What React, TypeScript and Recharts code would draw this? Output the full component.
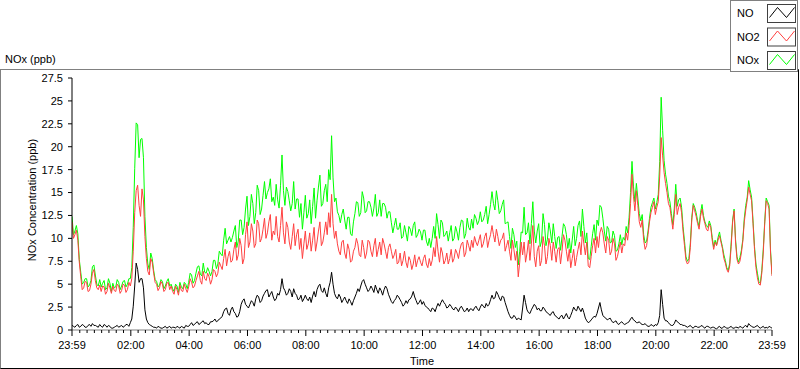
import { Legend, Line, LineChart, XAxis, YAxis } from 'recharts'

// readings every 6 minutes from 23:59 of the day before, plus the readings halfway between them
const START_MIN = -1
const STEP_MIN = 6

const NO = [
  0.5, 0.3, 0.6, 0.4, 0.5, 0.3, 0.6, 0.7, 0.5, 0.3,
  0.4, 0.6, 0.3, 0.4, 0.2, 0.4, 0.3, 0.5, 0.4, 0.6,
  0.8, 2.6, 7.3, 5.2, 5.6, 2.2, 0.8, 0.5, 0.3, 0.2,
  0.3, 0.2, 0.4, 0.3, 0.2, 0.3, 0.4, 0.2, 0.3, 0.5,
  0.4, 0.8, 0.6, 0.9, 0.7, 1.0, 0.8, 0.6, 0.9, 1.2,
  1.0, 1.3, 2.0, 2.4, 1.6, 2.5, 1.8, 1.5, 2.8, 3.4,
  2.6, 2.8, 3.0, 3.4, 3.6, 3.2, 4.0, 4.4, 3.9, 3.6,
  3.4, 3.8, 5.6, 4.3, 4.0, 4.2, 4.5, 3.8, 3.4, 3.1,
  3.8, 3.2, 3.0, 4.2, 4.4, 5.0, 4.1, 4.0, 4.6, 6.3,
  4.0, 3.4, 3.6, 3.3, 3.2, 3.4, 2.7, 3.6, 4.5, 4.8,
  5.5, 4.6, 4.4, 4.5, 4.9, 4.0, 4.3, 4.4, 4.5, 3.5,
  2.9, 3.4, 3.6, 3.0, 2.8, 2.9, 3.4, 4.2, 3.2, 3.0,
  2.8, 2.7, 2.4, 2.0, 2.3, 2.5, 2.6, 3.3, 2.8, 2.5,
  2.6, 2.2, 2.3, 2.4, 2.3, 2.1, 2.0, 2.3, 2.4, 2.3,
  2.5, 2.6, 2.9, 2.8, 3.8, 3.5, 3.9, 3.2, 3.6, 2.5,
  1.6, 1.3, 1.4, 1.3, 1.1, 3.8, 2.2, 1.8, 2.5, 2.6,
  2.4, 2.1, 2.3, 1.9, 1.6, 2.0, 1.5, 1.2, 1.6, 1.5,
  1.4, 1.6, 2.5, 2.1, 2.3, 2.4, 1.3, 0.8, 1.1, 1.5,
  1.8, 3.0, 1.6, 1.3, 1.2, 1.0, 0.9, 0.7, 0.8, 0.7,
  0.7, 0.9, 1.4, 1.0, 0.8, 0.7, 0.6, 0.5, 0.4, 0.5,
  0.6, 0.8, 4.4, 1.3, 1.0, 0.6, 0.5, 1.1, 0.8, 0.6,
  0.5, 0.3, 0.5, 0.2, 0.4, 0.3, 0.5, 0.2, 0.4, 0.2,
  0.3, 0.1, 0.4, 0.2, 0.3, 0.2, 0.4, 0.2, 0.3, 0.4,
  0.2, 0.5, 0.7, 0.4, 0.3, 0.5, 0.2, 0.4, 0.3, 0.4,
  0.2,
]

const NO_MID = [
  0.4, 0.5, 0.3, 0.6, 0.3, 0.5, 0.4, 0.5, 0.4, 0.6,
  0.3, 0.5, 0.5, 0.2, 0.3, 0.5, 0.4, 0.3, 0.6, 0.4,
  1.2, 4.8, 6.6, 5.6, 4.6, 1.2, 0.6, 0.4, 0.3, 0.4,
  0.2, 0.3, 0.2, 0.4, 0.3, 0.2, 0.3, 0.4, 0.2, 0.4,
  0.6, 0.5, 0.8, 0.6, 0.9, 0.7, 0.6, 0.9, 1.0, 0.9,
  1.2, 1.5, 2.3, 1.8, 2.2, 2.0, 1.4, 2.0, 3.2, 2.8,
  2.4, 3.2, 2.6, 3.8, 3.0, 3.7, 4.3, 3.6, 4.2, 3.2,
  4.0, 4.4, 4.6, 3.8, 4.5, 3.6, 4.0, 3.3, 3.8, 3.4,
  3.4, 3.6, 3.7, 3.6, 4.8, 4.3, 4.6, 3.6, 5.2, 5.0,
  3.6, 3.9, 3.0, 3.6, 2.9, 3.1, 3.2, 4.0, 4.2, 5.3,
  5.0, 4.2, 4.8, 4.1, 4.4, 4.6, 3.8, 4.8, 3.9, 3.1,
  3.2, 3.8, 3.3, 2.6, 3.2, 3.3, 3.7, 3.6, 2.8, 3.3,
  3.1, 2.5, 2.2, 2.4, 2.0, 2.9, 3.0, 3.0, 2.4, 2.8,
  2.3, 2.5, 2.0, 2.6, 2.0, 2.4, 2.3, 2.1, 2.6, 2.1,
  2.8, 2.4, 2.6, 3.3, 3.4, 4.2, 3.5, 3.7, 3.0, 2.0,
  1.3, 1.6, 1.1, 1.2, 2.4, 3.0, 1.9, 2.2, 2.8, 2.2,
  2.1, 2.5, 2.0, 1.7, 1.9, 1.6, 1.3, 1.5, 1.2, 1.8,
  1.2, 2.0, 2.2, 2.6, 2.0, 1.9, 1.0, 0.9, 1.3, 1.4,
  2.4, 2.2, 1.4, 1.1, 1.3, 0.8, 1.0, 0.6, 0.9, 0.6,
  0.8, 1.2, 1.1, 0.8, 0.9, 0.6, 0.7, 0.4, 0.6, 0.4,
  0.5, 1.6, 2.8, 1.0, 0.8, 0.5, 0.7, 0.9, 0.6, 0.5,
  0.4, 0.4, 0.3, 0.4, 0.3, 0.4, 0.3, 0.4, 0.3, 0.3,
  0.2, 0.3, 0.2, 0.4, 0.2, 0.3, 0.2, 0.3, 0.2, 0.3,
  0.4, 0.3, 0.5, 0.3, 0.4, 0.3, 0.3, 0.2, 0.2, 0.3,
]

const NO2 = [
  11.8, 10.4, 9.8, 5.8, 4.6, 5.2, 4.3, 6.2, 5.4, 4.4,
  4.2, 4.7, 4.2, 4.6, 4.8, 4.2, 4.8, 4.3, 4.9, 4.4,
  4.8, 8.6, 15.2, 13.6, 15.4, 10.2, 6.4, 7.8, 6.2, 5.0,
  4.6, 5.0, 4.4, 5.2, 4.8, 3.9, 4.4, 4.9, 4.2, 4.5,
  4.7, 5.2, 4.8, 5.9, 5.4, 6.4, 5.4, 5.8, 5.5, 6.4,
  6.2, 7.0, 7.8, 7.0, 8.6, 7.6, 9.6, 8.2, 9.2, 7.8,
  11.8, 9.6, 10.8, 9.4, 11.6, 10.0, 12.2, 10.6, 12.6, 10.8,
  12.4, 9.6, 13.4, 9.4, 11.2, 8.8, 11.6, 10.4, 8.8, 7.8,
  10.8, 9.4, 8.6, 11.2, 9.6, 11.8, 9.6, 11.8, 12.8, 14.8,
  10.0, 9.4, 8.2, 9.8, 7.8, 8.8, 7.6, 9.0, 9.4, 8.0,
  9.0, 8.4, 9.6, 8.0, 10.0, 8.8, 8.2, 9.4, 7.8, 9.4,
  7.8, 8.8, 7.4, 7.0, 8.6, 6.8, 7.6, 7.2, 6.9, 8.0,
  7.0, 8.2, 6.8, 7.0, 9.0, 10.2, 7.4, 8.4, 7.6, 7.2,
  8.8, 7.8, 8.4, 8.8, 9.6, 8.4, 9.2, 9.8, 10.2, 9.2,
  10.4, 9.4, 10.6, 9.8, 11.4, 9.6, 10.2, 9.8, 10.6, 9.2,
  8.6, 9.8, 7.6, 5.8, 9.6, 9.6, 8.4, 7.6, 11.4, 6.9,
  9.2, 7.6, 9.2, 8.0, 9.2, 9.6, 7.4, 9.0, 8.6, 9.8,
  7.5, 6.8, 8.8, 7.9, 9.6, 10.8, 8.2, 7.0, 8.0, 10.0,
  10.2, 10.6, 10.6, 8.4, 9.8, 8.6, 9.4, 8.0, 9.6, 9.4,
  10.6, 11.4, 17.0, 13.0, 13.6, 11.2, 9.8, 9.2, 11.8, 13.4,
  12.6, 14.0, 21.0, 17.2, 15.0, 13.4, 11.0, 14.8, 13.4, 12.8,
  9.2, 7.2, 9.0, 13.6, 12.4, 11.0, 13.2, 11.6, 10.8, 11.2,
  8.8, 9.2, 10.3, 8.9, 7.3, 6.3, 9.1, 13.0, 7.7, 7.5,
  9.7, 13.1, 15.6, 14.1, 8.8, 5.7, 4.9, 8.4, 14.1, 13.2,
  5.9,
]

const NO2_MID = [
  10.0, 10.9, 7.4, 4.4, 5.3, 4.2, 5.0, 6.6, 4.6, 4.9,
  4.8, 3.9, 5.1, 4.0, 4.3, 5.0, 4.0, 5.0, 4.1, 5.2,
  5.6, 12.8, 15.8, 12.4, 14.2, 7.8, 6.0, 7.4, 5.2, 4.3,
  5.3, 4.2, 5.1, 4.4, 4.2, 4.8, 3.8, 4.3, 5.0, 4.1,
  5.6, 4.6, 5.4, 6.4, 5.0, 5.6, 6.2, 5.0, 6.6, 5.8,
  7.4, 6.6, 8.8, 8.0, 7.4, 8.8, 7.6, 10.0, 7.2, 10.4,
  9.0, 11.6, 9.0, 12.0, 9.6, 11.0, 10.0, 11.8, 9.8, 10.4,
  10.2, 11.4, 10.6, 11.8, 9.6, 10.2, 9.2, 11.0, 10.0, 9.4,
  8.8, 10.6, 9.8, 8.6, 10.8, 9.2, 10.6, 10.4, 11.2, 11.6,
  10.8, 8.6, 9.6, 8.4, 9.4, 7.4, 8.6, 10.0, 8.2, 9.8,
  7.8, 9.8, 8.6, 9.2, 8.0, 9.6, 10.0, 8.6, 9.0, 8.6,
  8.2, 7.2, 8.4, 7.6, 7.4, 8.0, 6.6, 8.2, 7.6, 7.4,
  7.8, 7.2, 7.8, 7.6, 8.0, 8.6, 9.0, 7.2, 8.4, 7.8,
  7.4, 8.8, 7.8, 9.4, 8.0, 9.8, 8.6, 9.0, 9.6, 9.8,
  9.0, 10.2, 9.0, 10.4, 10.4, 11.0, 9.2, 10.0, 8.6, 9.8,
  7.6, 8.8, 8.6, 7.4, 8.2, 7.4, 9.8, 9.4, 8.0, 8.6,
  7.0, 10.2, 7.2, 10.0, 7.6, 8.6, 8.8, 7.2, 10.4, 8.6,
  8.8, 7.8, 7.0, 8.8, 8.2, 9.4, 9.6, 6.8, 9.2, 8.4,
  9.0, 11.2, 9.4, 10.2, 8.2, 10.0, 7.6, 8.8, 8.4, 9.2,
  9.8, 13.8, 14.6, 15.2, 11.8, 12.0, 8.8, 10.4, 12.8, 14.0,
  13.4, 16.8, 19.0, 16.0, 13.8, 12.2, 12.6, 12.6, 13.8, 10.8,
  7.6, 7.4, 12.0, 13.0, 11.6, 12.4, 12.2, 11.0, 11.6, 9.8,
  9.6, 9.8, 9.6, 7.8, 6.6, 7.0, 11.8, 9.6, 7.2, 8.4,
  11.8, 14.2, 14.8, 11.6, 6.8, 5.0, 6.2, 11.6, 13.8, 8.4,
]

const NOX = [
  12.4, 10.8, 10.5, 6.3, 5.2, 5.6, 4.9, 6.9, 6.0, 4.8,
  4.7, 5.4, 4.6, 5.1, 5.1, 4.7, 5.2, 4.8, 5.4, 5.0,
  5.6, 11.2, 22.6, 18.8, 20.9, 12.4, 7.2, 8.4, 6.5, 5.3,
  4.9, 5.3, 4.8, 5.6, 5.0, 4.2, 4.8, 5.2, 4.5, 5.0,
  5.2, 6.0, 5.4, 6.9, 6.1, 7.3, 6.2, 6.4, 6.4, 7.6,
  7.2, 8.3, 9.8, 9.4, 10.2, 10.1, 11.4, 9.7, 12.0, 11.2,
  14.6, 12.4, 13.8, 12.8, 15.2, 13.2, 16.2, 15.0, 16.5, 14.5,
  15.9, 13.3, 19.1, 13.6, 15.1, 13.0, 16.2, 14.3, 12.3, 11.0,
  14.7, 12.7, 11.6, 15.5, 14.1, 16.9, 13.8, 15.9, 17.5, 21.2,
  14.0, 12.9, 11.7, 13.2, 11.0, 12.3, 10.3, 12.7, 13.9, 12.8,
  14.4, 13.0, 14.0, 12.4, 14.8, 12.8, 12.4, 13.8, 12.2, 12.9,
  10.6, 12.2, 11.0, 10.0, 11.4, 9.7, 11.0, 11.4, 10.1, 11.0,
  9.8, 10.9, 9.2, 9.0, 11.3, 12.7, 10.0, 11.7, 10.4, 9.7,
  11.4, 10.0, 10.7, 11.2, 11.9, 10.5, 11.2, 12.1, 12.6, 11.5,
  12.9, 12.0, 13.5, 12.6, 15.1, 13.1, 14.1, 13.0, 14.2, 11.7,
  10.2, 11.1, 9.0, 7.1, 10.7, 13.4, 10.6, 9.4, 14.0, 9.5,
  11.6, 9.7, 11.5, 9.9, 10.8, 11.6, 8.9, 10.2, 10.2, 11.3,
  8.9, 8.4, 11.3, 10.0, 11.9, 13.2, 9.5, 7.8, 9.1, 11.5,
  12.0, 13.6, 12.2, 9.7, 11.0, 9.6, 10.3, 8.7, 10.4, 10.1,
  11.3, 12.3, 18.4, 14.0, 14.4, 11.9, 10.4, 9.7, 12.2, 13.9,
  13.2, 14.8, 25.4, 18.5, 16.0, 14.0, 11.5, 15.9, 14.2, 13.4,
  9.7, 7.5, 9.5, 13.8, 12.8, 11.3, 13.7, 11.8, 11.2, 11.4,
  9.1, 9.3, 10.7, 9.1, 7.6, 6.5, 9.5, 13.2, 8.0, 7.9,
  9.9, 13.6, 16.3, 14.5, 9.1, 6.2, 5.1, 8.8, 14.4, 13.6,
  6.1,
]

const NOX_MID = [
  10.4, 11.4, 7.7, 5.0, 5.6, 4.7, 5.4, 7.1, 5.0, 5.5,
  5.1, 4.4, 5.6, 4.2, 4.6, 5.5, 4.4, 5.3, 4.7, 5.6,
  6.8, 17.6, 22.4, 20.8, 18.8, 9.0, 6.6, 7.8, 5.5, 4.7,
  5.5, 4.5, 5.3, 4.8, 4.5, 5.0, 4.1, 4.7, 5.2, 4.5,
  6.2, 5.1, 6.2, 7.0, 5.9, 6.3, 6.8, 5.9, 7.6, 6.7,
  8.6, 8.1, 11.1, 9.8, 9.6, 10.8, 9.0, 12.0, 10.4, 13.2,
  11.4, 14.8, 11.6, 15.8, 12.6, 14.7, 14.3, 15.4, 14.0, 13.6,
  14.2, 15.8, 15.2, 15.6, 14.1, 13.8, 13.2, 14.3, 13.8, 12.8,
  12.2, 14.2, 13.5, 12.2, 15.6, 13.5, 15.2, 14.0, 16.4, 16.6,
  14.4, 12.5, 12.6, 12.0, 12.3, 10.5, 11.8, 14.0, 12.4, 15.1,
  12.8, 14.0, 13.4, 13.3, 12.4, 14.2, 13.8, 13.4, 12.9, 11.7,
  11.4, 11.0, 11.7, 10.2, 10.6, 11.3, 10.3, 11.8, 10.4, 10.7,
  10.9, 9.7, 10.0, 10.0, 10.0, 11.5, 12.0, 10.2, 10.8, 10.6,
  9.7, 11.3, 9.8, 12.0, 10.0, 12.2, 10.9, 11.1, 12.2, 11.9,
  11.8, 12.6, 11.6, 13.7, 13.8, 15.2, 12.7, 13.7, 11.6, 11.8,
  8.9, 10.4, 9.7, 8.6, 10.6, 10.4, 11.7, 11.6, 10.8, 10.8,
  9.1, 12.7, 9.2, 11.7, 9.5, 10.2, 10.1, 8.7, 11.6, 10.4,
  10.0, 9.8, 9.2, 11.4, 10.2, 11.3, 10.6, 7.7, 10.5, 9.8,
  11.4, 13.4, 10.8, 11.3, 9.5, 10.8, 8.6, 9.4, 9.3, 9.8,
  10.6, 15.0, 15.7, 16.0, 12.7, 12.6, 9.5, 10.8, 13.4, 14.4,
  13.9, 18.4, 21.8, 17.0, 14.6, 12.7, 13.3, 13.5, 14.4, 11.3,
  8.0, 7.8, 12.3, 13.4, 11.9, 12.8, 12.5, 11.4, 11.9, 10.1,
  9.8, 10.1, 9.8, 8.2, 6.8, 7.3, 12.0, 9.9, 7.4, 8.7,
  12.2, 14.5, 15.3, 11.9, 7.2, 5.3, 6.5, 11.8, 14.0, 8.7,
]

const MAJOR_TICKS = [-1, 120, 240, 360, 480, 600, 720, 840, 960, 1080, 1200, 1320, 1439]
const MAJOR_LABELS = ['23:59', '02:00', '04:00', '06:00', '08:00', '10:00', '12:00', '14:00', '16:00', '18:00', '20:00', '22:00', '23:59']
const MINOR_STEP = 15
const Y_TICKS = [0, 2.5, 5, 7.5, 10, 12.5, 15, 17.5, 20, 22.5, 25, 27.5]
const LEGEND_ORDER = ['NO', 'NO2', 'NOx']

const X_TICKS = [
  ...MAJOR_TICKS,
  ...Array.from({ length: 95 }, (_, k) => (k + 1) * MINOR_STEP).filter((m) => m % 120 !== 0),
].sort((a, b) => a - b)

const data = NO.flatMap((v, i) => {
  const t = START_MIN + i * STEP_MIN
  const rows = [{ t, NO: v, NO2: NO2[i], NOx: NOX[i] }]
  if (i < NO_MID.length) {
    rows.push({ t: t + STEP_MIN / 2, NO: NO_MID[i], NO2: NO2_MID[i], NOx: NOX_MID[i] })
  }
  return rows
})

const FONT = "'Liberation Sans', Arial, sans-serif"

function TimeTick({ x, y, payload }: any) {
  const idx = MAJOR_TICKS.indexOf(payload.value)
  const major = idx >= 0
  return (
    <g>
      <line x1={x} x2={x} y1={y} y2={y + (major ? 6 : 3)} stroke="#000" />
      {major && (
        <text x={x} y={y + 19} textAnchor="middle" fontSize={11} fill="#000">
          {MAJOR_LABELS[idx]}
        </text>
      )}
    </g>
  )
}

function YTitle({ viewBox }: any) {
  const cx = 32
  const cy = (viewBox?.y ?? 78) + (viewBox?.height ?? 252) / 2 - 4
  return (
    <text
      x={cx}
      y={cy}
      transform={`rotate(-90 ${cx} ${cy})`}
      textAnchor="middle"
      dominantBaseline="central"
      fontSize={11}
      fill="#000"
    >
      NOx Concentration (ppb)
    </text>
  )
}

function XTitle({ viewBox }: any) {
  const cx = (viewBox?.x ?? 72) + (viewBox?.width ?? 700) / 2
  return (
    <text x={cx} y={365} textAnchor="middle" fontSize={11} fill="#000">
      Time
    </text>
  )
}

function PlotLegend({ payload }: any) {
  const items = LEGEND_ORDER.map((name) => (payload ?? []).find((p: any) => p.value === name)).filter(Boolean)
  return (
    <svg width={68} height={72} style={{ display: 'block' }}>
      <rect x={0.5} y={0.5} width={67} height={71} fill="#fff" stroke="#808080" />
      {items.map((item: any, k: number) => {
        const top = 4 + k * 23.5
        return (
          <g key={item.value}>
            <text x={7} y={top + 13} fontSize={11} fill="#000" fontFamily={FONT}>
              {item.value}
            </text>
            <rect x={37.5} y={top + 0.5} width={28} height={18} fill="#fff" stroke="#404040" />
            <polyline
              points={`${39.5},${top + 13.5} ${47.5},${top + 3.5} ${56.5},${top + 13.5} ${64.5},${top + 3.5}`}
              fill="none"
              stroke={item.color}
            />
          </g>
        )
      })}
    </svg>
  )
}

export default function App() {
  return (
    <div style={{ position: 'absolute', left: 0, top: 0, width: 800, height: 369, background: '#fff', fontFamily: FONT }}>
      <div
        style={{
          position: 'absolute',
          left: 0,
          top: 69,
          width: 799,
          height: 300,
          boxSizing: 'border-box',
          borderTop: '1px solid #808080',
          borderLeft: '1px solid #808080',
          borderRight: '1px solid #000',
          borderBottom: '1px solid #000',
        }}
      />
      <div style={{ position: 'absolute', left: 5, top: 53, fontSize: 11, lineHeight: '12px', color: '#000' }}>
        NOx (ppb)
      </div>
      <div style={{ position: 'absolute', left: 0, top: 0 }}>
        <LineChart width={800} height={369} data={data} margin={{ top: 78, right: 28, bottom: 9, left: 0 }}>
          <XAxis
            dataKey="t"
            type="number"
            domain={[-1, 1439]}
            ticks={X_TICKS}
            interval={0}
            tick={<TimeTick />}
            tickLine={false}
            tickSize={0}
            tickMargin={0}
            height={30}
            axisLine={{ stroke: '#808080' }}
            allowDataOverflow
            label={<XTitle />}
          />
          <XAxis
            xAxisId="top"
            orientation="top"
            dataKey="t"
            type="number"
            domain={[-1, 1439]}
            height={0}
            tick={false}
            tickLine={false}
            axisLine={{ stroke: '#000' }}
          />
          <YAxis
            type="number"
            domain={[0, 27.5]}
            ticks={Y_TICKS}
            interval={0}
            width={72}
            tickSize={4}
            tickMargin={5}
            tick={{ fontSize: 11, fill: '#000' }}
            tickLine={{ stroke: '#000' }}
            axisLine={{ stroke: '#000' }}
            allowDataOverflow
            label={<YTitle />}
          />
          <YAxis
            yAxisId="right"
            orientation="right"
            type="number"
            domain={[0, 27.5]}
            width={0}
            tick={false}
            tickLine={false}
            axisLine={{ stroke: '#808080' }}
          />
          <Legend
            layout="horizontal"
            verticalAlign="middle"
            align="center"
            content={<PlotLegend />}
            wrapperStyle={{ position: 'absolute', left: 730, top: 0, width: 68, height: 72 }}
          />
          <Line type="linear" dataKey="NOx" name="NOx" stroke="#00ff00" strokeWidth={1} dot={false} isAnimationActive={false} />
          <Line type="linear" dataKey="NO2" name="NO2" stroke="#ff4040" strokeWidth={1} dot={false} isAnimationActive={false} />
          <Line type="linear" dataKey="NO" name="NO" stroke="#000000" strokeWidth={1} dot={false} isAnimationActive={false} />
        </LineChart>
      </div>
    </div>
  )
}
